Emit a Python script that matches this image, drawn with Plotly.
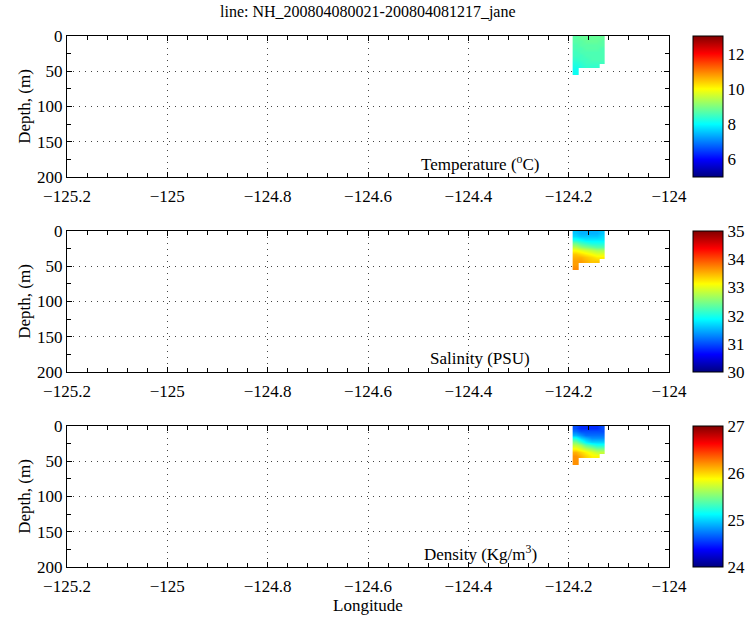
import plotly.graph_objects as go

# cast positions (longitude) and depth bins (m)
lons = [-124.1867, -124.176, -124.1653, -124.1547, -124.144, -124.1333]
depths = [2.5, 7.5, 12.5, 17.5, 22.5, 27.5, 32.5, 37.5, 42.5, 47.5, 52.5]
N = None

temperature = [
    [8.7, 8.8, 8.8, 8.8, 8.8, 8.8],
    [8.7, 8.7, 8.8, 8.8, 8.8, 8.7],
    [8.6, 8.7, 8.7, 8.7, 8.7, 8.7],
    [8.6, 8.6, 8.7, 8.7, 8.7, 8.6],
    [8.5, 8.6, 8.6, 8.6, 8.6, 8.6],
    [8.5, 8.5, 8.6, 8.6, 8.6, 8.6],
    [8.4, 8.5, 8.5, 8.6, 8.6, 8.6],
    [8.3, 8.4, 8.5, 8.5, 8.5, 8.5],
    [8.2, 8.3, 8.4, 8.4, 8.4, N],
    [8.1, N, N, N, N, N],
    [8.1, N, N, N, N, N],
]
salinity = [
    [31.6, 31.5, 31.5, 31.5, 31.5, 31.6],
    [31.7, 31.6, 31.6, 31.6, 31.6, 31.7],
    [32.0, 31.9, 31.8, 31.8, 31.8, 31.8],
    [32.4, 32.2, 32.1, 32.0, 32.0, 32.0],
    [32.8, 32.6, 32.5, 32.4, 32.3, 32.3],
    [33.1, 33.0, 32.9, 32.8, 32.7, 32.7],
    [33.4, 33.3, 33.2, 33.1, 33.0, 33.0],
    [33.5, 33.5, 33.4, 33.3, 33.2, 33.2],
    [33.6, 33.6, 33.5, 33.4, 33.4, N],
    [33.6, N, N, N, N, N],
    [33.7, N, N, N, N, N],
]
density = [
    [24.6, 24.5, 24.5, 24.5, 24.5, 24.6],
    [24.7, 24.6, 24.6, 24.6, 24.6, 24.6],
    [24.9, 24.8, 24.7, 24.7, 24.7, 24.7],
    [25.2, 25.0, 24.9, 24.8, 24.8, 24.8],
    [25.5, 25.3, 25.1, 25.0, 25.0, 25.0],
    [25.7, 25.6, 25.4, 25.3, 25.2, 25.2],
    [25.9, 25.8, 25.7, 25.6, 25.5, 25.5],
    [26.1, 26.0, 25.9, 25.8, 25.7, 25.7],
    [26.2, 26.1, 26.0, 25.9, 25.9, N],
    [26.2, N, N, N, N, N],
    [26.2, N, N, N, N, N],
]

panels = [
    (temperature, 5, 13, [6, 8, 10, 12], "Temperature (<sup>o</sup>C)"),
    (salinity, 30, 35, [30, 31, 32, 33, 34, 35], "Salinity (PSU)"),
    (density, 24, 27, [24, 25, 26, 27], "Density (Kg/m<sup>3</sup>)"),
]

jet = [[0, "rgb(0,0,128)"], [0.125, "rgb(0,0,255)"], [0.375, "rgb(0,255,255)"],
       [0.625, "rgb(255,255,0)"], [0.875, "rgb(255,0,0)"], [1, "rgb(128,0,0)"]]

W, H = 750, 618
x0, x1 = 67, 669
tops = [36, 231, 426]
ph = 141
serif = "Liberation Serif, Times New Roman, serif"
font = dict(family=serif, size=17, color="black")

fig = go.Figure()
layout = dict(width=W, height=H, margin=dict(l=0, r=0, t=0, b=0, autoexpand=False),
              paper_bgcolor="white", plot_bgcolor="white", showlegend=False,
              font=font, annotations=[])

for i, (z, zmin, zmax, cticks, label) in enumerate(panels):
    n = "" if i == 0 else str(i + 1)
    top, bot = 1 - tops[i] / H, 1 - (tops[i] + ph) / H
    fig.add_trace(go.Heatmap(
        x=lons, y=depths, z=z, zmin=zmin, zmax=zmax, colorscale=jet,
        zsmooth="best", xaxis="x" + n, yaxis="y" + n, hoverongaps=False,
        colorbar=dict(x=693 / W, xanchor="left", thickness=30, thicknessmode="pixels",
                      len=ph / H, lenmode="fraction", y=(top + bot) / 2, yanchor="middle",
                      tickvals=cticks, ticks="", outlinewidth=1, outlinecolor="black",
                      tickfont=font, xpad=0, ypad=0)))
    axcommon = dict(showline=True, linecolor="black", linewidth=1.2, mirror="allticks",
                    ticks="inside", ticklen=5, tickcolor="black", showgrid=True,
                    gridcolor="#444", griddash="1px,5px", gridwidth=1, zeroline=False,
                    tickfont=font, automargin=False)
    layout["xaxis" + n] = dict(axcommon, domain=[x0 / W, x1 / W], anchor="y" + n,
                               range=[-125.2, -124], dtick=0.2, ticklabelstandoff=3,
                               minor=dict(dtick=0.04, ticks="inside", ticklen=4,
                                          tickcolor="black", showgrid=False))
    layout["yaxis" + n] = dict(axcommon, domain=[bot, top], anchor="x" + n,
                               range=[200, 0], dtick=50,
                               title=dict(text="Depth, (m)", font=font, standoff=2),
                               minor=dict(dtick=25, ticks="inside", ticklen=4,
                                          tickcolor="black", showgrid=False))
    layout["annotations"].append(dict(
        text=label, xref="paper", yref="paper", x=480 / W, y=1 - (tops[i] + 127) / H,
        xanchor="center", yanchor="middle", showarrow=False, font=font))

layout["annotations"].append(dict(
    text="line: NH_200804080021-200804081217_jane", xref="paper", yref="paper",
    x=368 / W, y=1 - 12 / H, xanchor="center", yanchor="middle", showarrow=False,
    font=dict(family=serif, size=16, color="black")))
layout["annotations"].append(dict(
    text="Longitude", xref="paper", yref="paper", x=368 / W, y=1 - 605 / H,
    xanchor="center", yanchor="middle", showarrow=False, font=font))

fig.update_layout(**layout)
fig.write_html("out.html", config={"displayModeBar": False},
               post_script="document.body.style.margin='0';")
